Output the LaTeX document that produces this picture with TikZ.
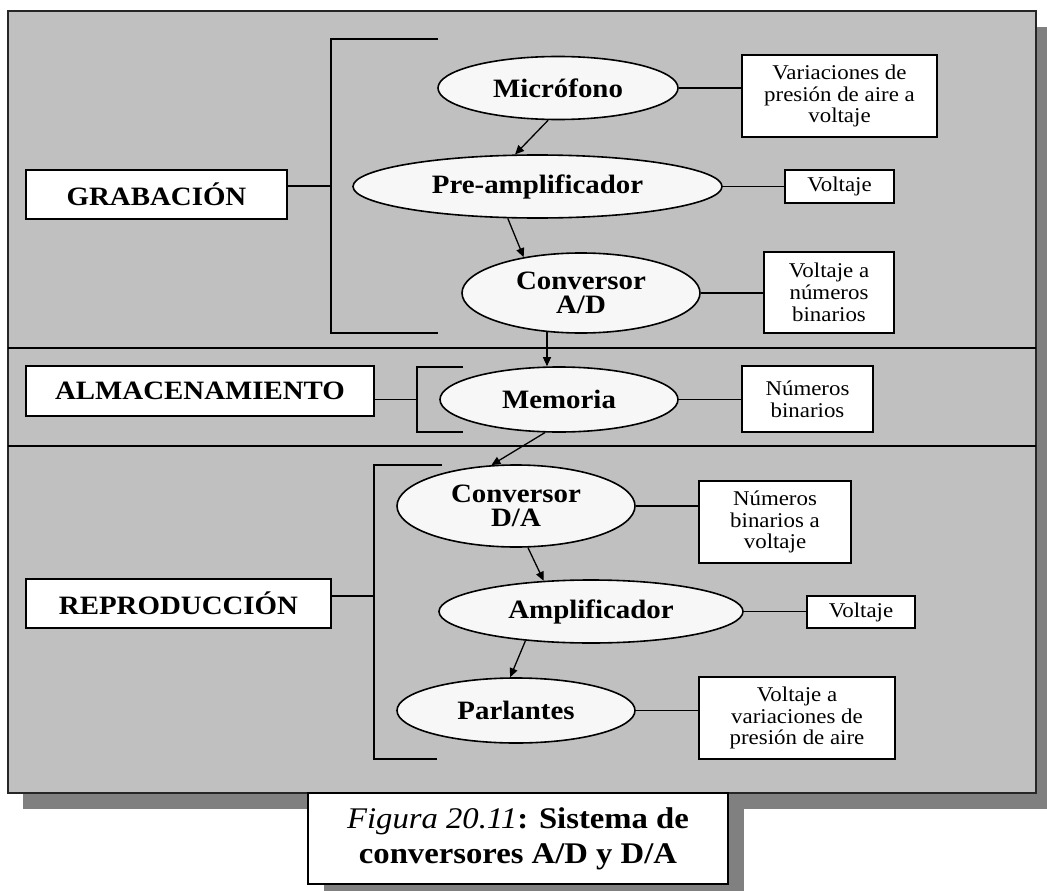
\documentclass[tikz,border=0pt]{standalone}
\usepackage{fontspec}
\setmainfont[FakeStretch=1.09]{Liberation Serif}
\usetikzlibrary{shapes.geometric,arrows.meta}
\definecolor{panelgray}{HTML}{C0C0C0}
\definecolor{shadowgray}{HTML}{808080}
\definecolor{ellfill}{HTML}{F7F7F7}
\begin{document}
\begin{tikzpicture}[x=1pt,y=-1pt,
  panel/.style={fill=panelgray,draw=black!85,line width=1.4pt},
  ell/.style={ellipse,draw=black,line width=1.6pt,fill=ellfill,inner sep=0pt,align=center,
    font=\bfseries\fontsize{26.5}{24}\selectfont},
  lbl/.style={draw=black,line width=1.6pt,fill=white,inner sep=0pt,
    font=\bfseries\fontsize{26.5}{26}\selectfont},
  info/.style={draw=black,line width=1.6pt,fill=white,inner sep=0pt,align=center,
    font=\fontsize{21}{21.7}\selectfont},
  conn/.style={line width=1.6pt},
  brk/.style={line width=1.8pt},
  arr/.style={line width=1.3pt,-{Triangle[length=9pt,width=8pt]}}]
\useasboundingbox (0,0) rectangle (1047,891);
\fill[white] (0,0) rectangle (1047,891);
% main panel with shadow
\fill[shadowgray] (23,27) rectangle (1052,809);
\draw[panel] (8,11) rectangle (1036,793);
\draw[line width=1.5pt] (8,348) -- (1036,348);
\draw[line width=1.5pt] (8,446) -- (1036,446);
% caption with shadow
\fill[shadowgray] (324,809) rectangle (744,900);
\node[draw=black,line width=1.6pt,fill=white,minimum width=420pt,minimum height=91pt,inner sep=0pt,
  align=center,font=\fontsize{30}{35}\selectfont] (cap) at (518,838.5)
  {\textit{Figura 20.11}\textbf{: Sistema de}\\\textbf{conversores A/D y D/A}};
% brackets
\draw[brk] (438,39) -- (331,39) -- coordinate[pos=0.5] (b1) (331,333) -- (438,333);
\draw[brk] (463,367) -- (417,367) -- coordinate[pos=0.5] (b2) (417,432) -- (463,432);
\draw[brk] (442,465) -- (374,465) -- (374,759) -- (437,759);
\coordinate (b3) at (374,596);
% section labels
\node[lbl,minimum width=261pt,minimum height=49pt] (grab) at (156.5,194.5) {GRABACIÓN};
\node[lbl,minimum width=348pt,minimum height=50pt] (alm) at (200,391) {ALMACENAMIENTO};
\node[lbl,minimum width=305pt,minimum height=49pt] (rep) at (178.5,603.5) {REPRODUCCIÓN};
\draw[conn] (b1) -- (b1 -| grab.east);
\draw[conn] (b2) -- (b2 -| alm.east);
\draw[conn] (b3) -- (b3 -| rep.east);
% ellipses
\node[ell,minimum width=240pt,minimum height=63pt] (mic) at (558,88) {Micrófono};
\node[ell,minimum width=369pt,minimum height=63pt] (pre) at (537.5,186.5) {Pre-amplificador};
\node[ell,minimum width=238pt,minimum height=80pt] (ad) at (581,293) {Conversor\\A/D};
\node[ell,minimum width=238pt,minimum height=65pt] (mem) at (559,399.5) {Memoria};
\node[ell,minimum width=238pt,minimum height=82pt] (da) at (516,506) {Conversor\\D/A};
\node[ell,minimum width=304pt,minimum height=63pt] (amp) at (591,611.5) {Amplificador};
\node[ell,minimum width=238pt,minimum height=65pt] (par) at (516,710.5) {Parlantes};
% info boxes
\node[info,minimum width=195pt,minimum height=82pt] (i1) at (839.5,96) {Variaciones de\\presión de aire a\\voltaje};
\node[info,minimum width=109pt,minimum height=33pt] (i2) at (839.5,186.5) {Voltaje};
\node[info,minimum width=130pt,minimum height=81pt] (i3) at (829,292.5) {Voltaje a\\números\\binarios};
\node[info,minimum width=131pt,minimum height=66pt] (i4) at (807.5,399) {Números\\binarios};
\node[info,minimum width=152pt,minimum height=82pt] (i5) at (775,522) {Números\\binarios a\\voltaje};
\node[info,minimum width=108pt,minimum height=32pt] (i6) at (861,612) {Voltaje};
\node[info,minimum width=196pt,minimum height=82pt] (i7) at (797,718) {Voltaje a\\variaciones de\\presión de aire};
% connectors to info boxes
\draw[conn] (mic.east) -- (mic.east -| i1.west);
\draw[conn] (pre.east) -- (pre.east -| i2.west);
\draw[conn] (ad.east) -- (ad.east -| i3.west);
\draw[conn] (mem.east) -- (mem.east -| i4.west);
\draw[conn] (da.east) -- (da.east -| i5.west);
\draw[conn] (amp.east) -- (amp.east -| i6.west);
\draw[conn] (par.east) -- (par.east -| i7.west);
% flow arrows
\draw[arr] (mic.253) -- (pre.125);
\draw[arr] (pre.227) -- (ad.148);
\draw[arr] (ad.229) -- (ad.229 |- mem.north);
\draw[arr] (mem.247) -- (da.121);
\draw[arr] (da.286) -- (amp.147);
\draw[arr] (amp.204) -- (par.100);
\end{tikzpicture}
\end{document}
